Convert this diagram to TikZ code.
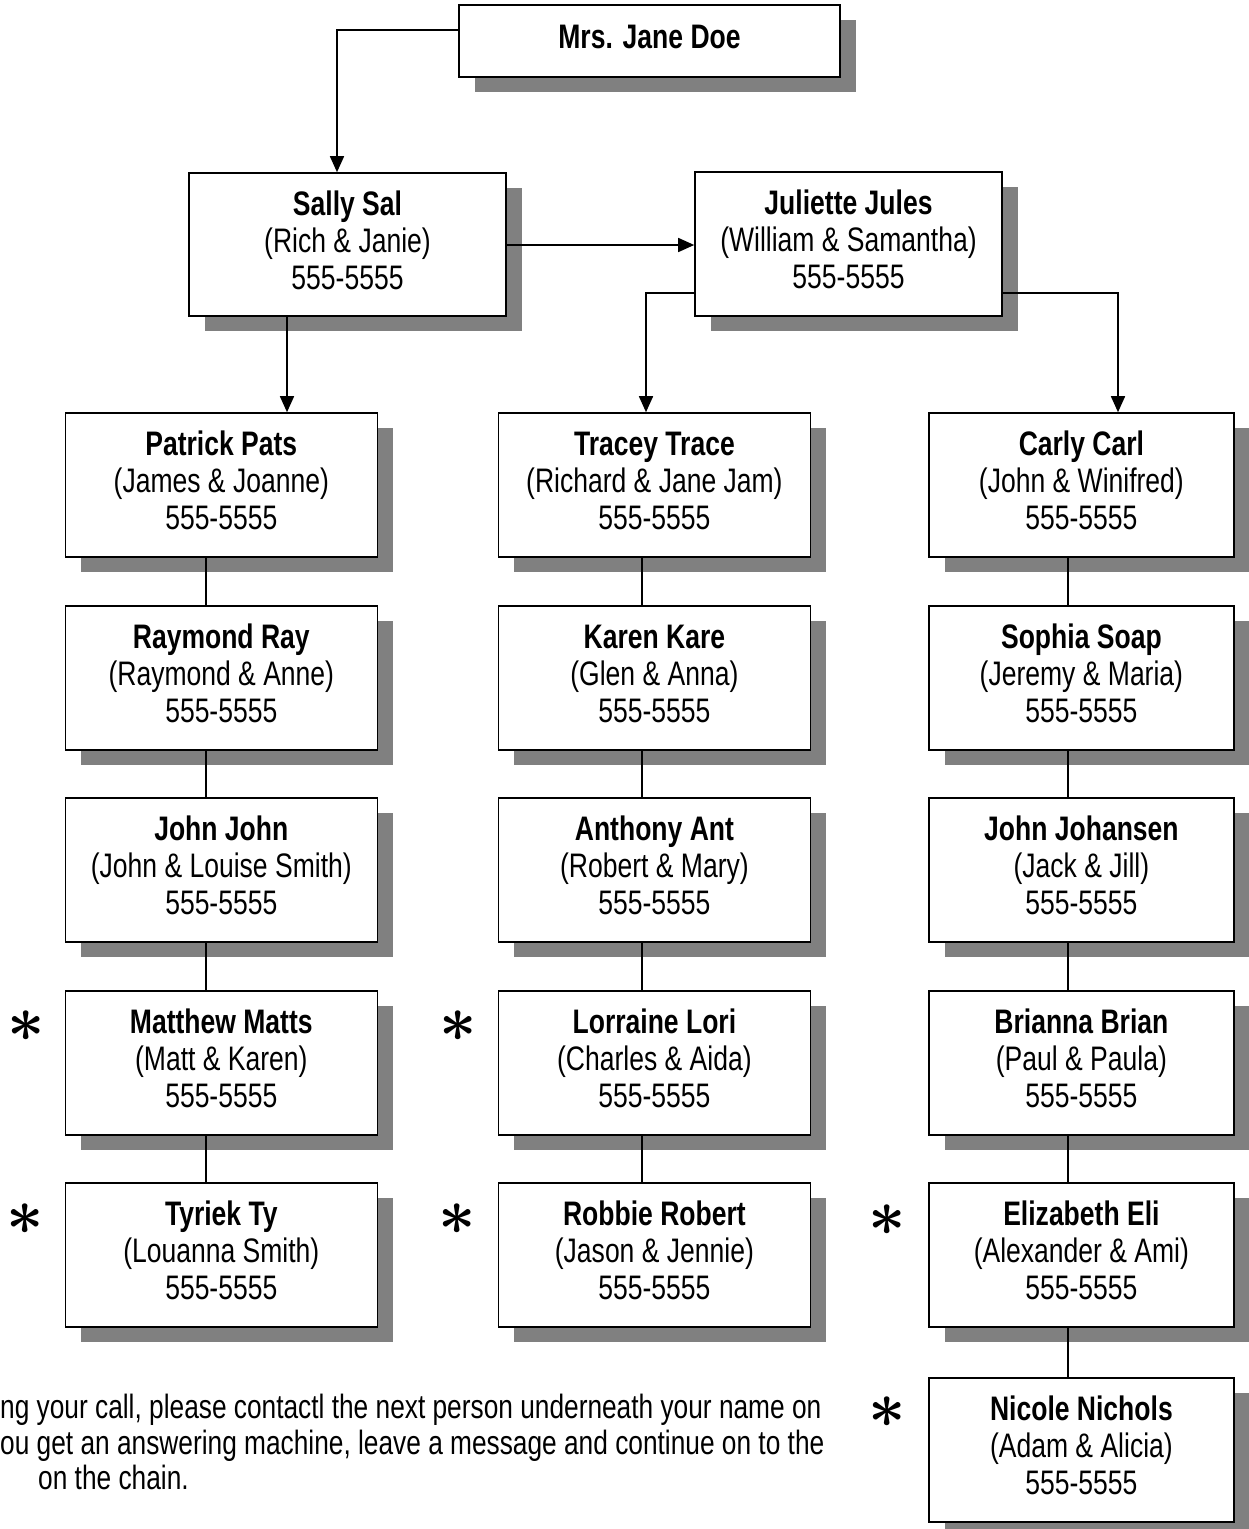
\documentclass[tikz,border=0pt]{standalone}
\usepackage{fontspec}
\setmainfont{Liberation Sans}[FakeStretch=0.78]
\usepackage{graphicx}
\usetikzlibrary{shadows,arrows.meta}
\tikzset{
  person/.style={draw=black, line width=1.6pt, fill=white, align=center,
    minimum width=312pt, minimum height=144pt, inner sep=0pt, text depth=9pt,
    font=\fontsize{34}{37}\selectfont,
    drop shadow={shadow xshift=16pt, shadow yshift=-15pt, fill=black!50, opacity=1}},
  rperson/.style={person, minimum width=305pt},
  link/.style={line width=1.6pt},
  arr/.style={line width=1.6pt, -{Triangle[length=16pt,width=14pt]}},
  star/.style={inner sep=0pt},
  note/.style={font=\fontsize{33.7}{36}\selectfont, anchor=base west, inner sep=0pt}
}
\newcommand{\bigstar}{\scalebox{6.5}{\boldmath$\ast$}}
\begin{document}
\begin{tikzpicture}[x=1pt,y=-1pt]
\useasboundingbox (0,0) rectangle (1249,1529);
% top
\node[person, minimum width=381pt, minimum height=72pt] (jane) at (649.5,41) {\textbf{Mrs. Jane Doe}};
\node[person, minimum width=317pt, minimum height=143pt] (sally) at (347.5,244.5) {\textbf{Sally Sal}\\(Rich \& Janie)\\555-5555};
\node[person, minimum width=307pt] (jules) at (848.5,244) {\textbf{Juliette Jules}\\(William \& Samantha)\\555-5555};
% left column
\node[person] (pats) at (221.3,485) {\textbf{Patrick Pats}\\(James \& Joanne)\\555-5555};
\node[person] (ray) at (221.3,678) {\textbf{Raymond Ray}\\(Raymond \& Anne)\\555-5555};
\node[person] (johnj) at (221.3,870) {\textbf{John John}\\(John \& Louise Smith)\\555-5555};
\node[person] (matts) at (221.3,1063) {\textbf{Matthew Matts}\\(Matt \& Karen)\\555-5555};
\node[person] (ty) at (221.3,1255) {\textbf{Tyriek Ty}\\(Louanna Smith)\\555-5555};
% middle column
\node[person] (trace) at (654.4,485) {\textbf{Tracey Trace}\\(Richard \& Jane Jam)\\555-5555};
\node[person] (kare) at (654.4,678) {\textbf{Karen Kare}\\(Glen \& Anna)\\555-5555};
\node[person] (ant) at (654.4,870) {\textbf{Anthony Ant}\\(Robert \& Mary)\\555-5555};
\node[person] (lori) at (654.4,1063) {\textbf{Lorraine Lori}\\(Charles \& Aida)\\555-5555};
\node[person] (robert) at (654.4,1255) {\textbf{Robbie Robert}\\(Jason \& Jennie)\\555-5555};
% right column
\node[rperson] (carl) at (1081.4,485) {\textbf{Carly Carl}\\(John \& Winifred)\\555-5555};
\node[rperson] (soap) at (1081.4,678) {\textbf{Sophia Soap}\\(Jeremy \& Maria)\\555-5555};
\node[rperson] (johansen) at (1081.4,870) {\textbf{John Johansen}\\(Jack \& Jill)\\555-5555};
\node[rperson] (brian) at (1081.4,1063) {\textbf{Brianna Brian}\\(Paul \& Paula)\\555-5555};
\node[rperson] (eli) at (1081.4,1255) {\textbf{Elizabeth Eli}\\(Alexander \& Ami)\\555-5555};
\node[rperson] (nichols) at (1081.4,1450) {\textbf{Nicole Nichols}\\(Adam \& Alicia)\\555-5555};
% asterisks
\node[star] (st1) at (26,1026) {\bigstar};
\node[star] (st2) at (25,1219) {\bigstar};
\node[star] (st3) at (458,1026) {\bigstar};
\node[star] (st4) at (457,1219) {\bigstar};
\node[star] (st5) at (887,1220) {\bigstar};
\node[star] (st6) at (887,1412) {\bigstar};
% connector coordinates
\coordinate (a1) at (337,30);
\coordinate (h1) at (0,245);
\coordinate (a2) at (287,0);
\coordinate (a3) at (646,293);
\coordinate (a4) at (1118,293);
\coordinate (lx) at (206,0);
\coordinate (mx) at (642,0);
\coordinate (rx) at (1068,0);
% arrows
\draw[arr] (jane.west |- a1) -| (sally.north -| a1);
\draw[arr] (sally.east |- h1) -- (jules.west |- h1);
\draw[arr] (sally.south -| a2) -- (pats.north -| a2);
\draw[arr] (jules.west |- a3) -| (trace.north -| a3);
\draw[arr] (jules.east |- a4) -| (carl.north -| a4);
% chains
\draw[link] (pats.south -| lx) -- (ray.north -| lx);
\draw[link] (ray.south -| lx) -- (johnj.north -| lx);
\draw[link] (johnj.south -| lx) -- (matts.north -| lx);
\draw[link] (matts.south -| lx) -- (ty.north -| lx);
\draw[link] (trace.south -| mx) -- (kare.north -| mx);
\draw[link] (kare.south -| mx) -- (ant.north -| mx);
\draw[link] (ant.south -| mx) -- (lori.north -| mx);
\draw[link] (lori.south -| mx) -- (robert.north -| mx);
\draw[link] (carl.south -| rx) -- (soap.north -| rx);
\draw[link] (soap.south -| rx) -- (johansen.north -| rx);
\draw[link] (johansen.south -| rx) -- (brian.north -| rx);
\draw[link] (brian.south -| rx) -- (eli.north -| rx);
\draw[link] (eli.south -| rx) -- (nichols.north -| rx);
% note
\node[note] (n1) at (0,1418) {ng your call, please contactl the next person underneath your name on};
\node[note] (n2) at (0,1454) {ou get an answering machine, leave a message and continue on to the};
\node[note] (n3) at (38,1489) {on the chain.};
\end{tikzpicture}
\end{document}
